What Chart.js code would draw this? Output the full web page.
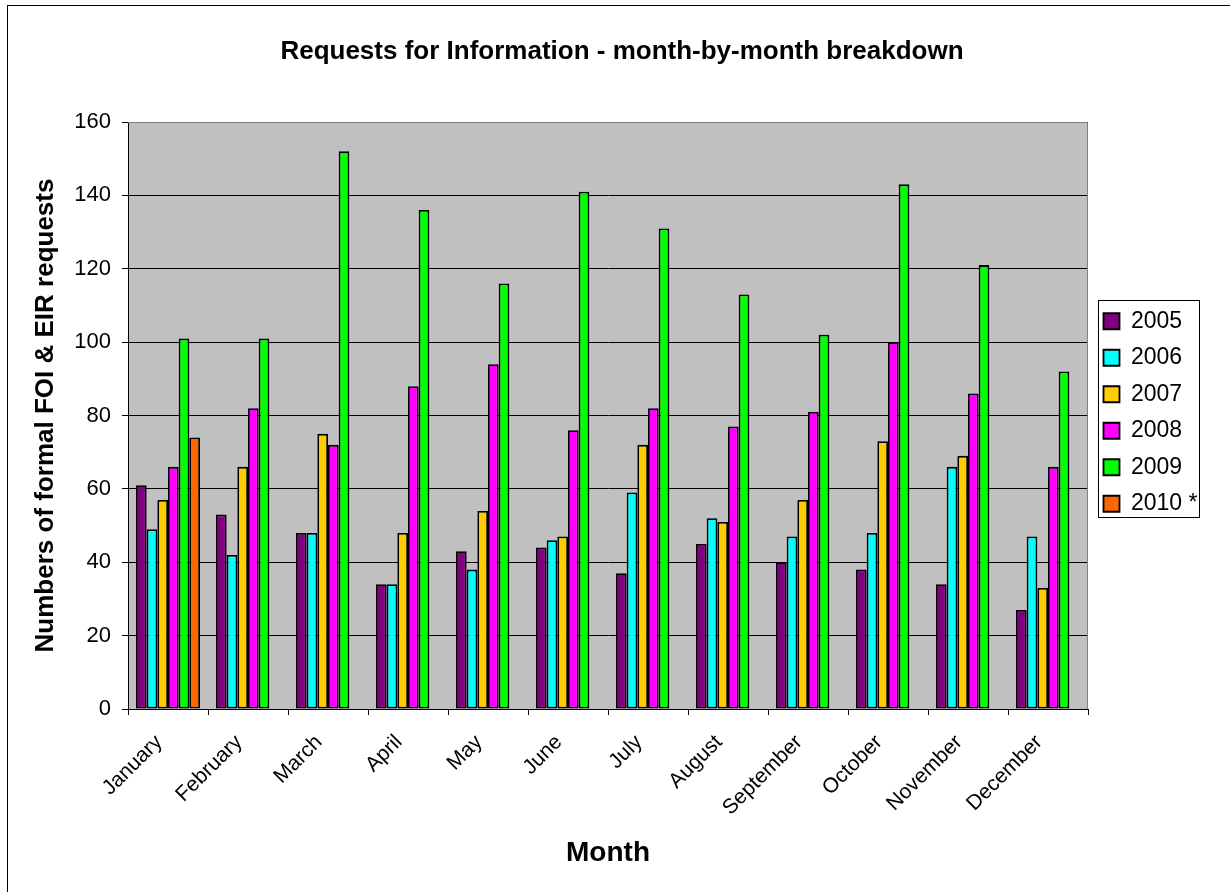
<!DOCTYPE html>
<html>
<head>
<meta charset="utf-8">
<script src="https://cdn.jsdelivr.net/npm/chart.js@4.4.1/dist/chart.umd.min.js"></script>
<style>
html,body{margin:0;padding:0;background:#fff;}
#wrap{width:1230px;height:892px;position:relative;}
</style>
</head>
<body>
<div id="wrap"><canvas id="c" width="1230" height="892"></canvas></div>
<script>
const months = ['January','February','March','April','May','June','July','August','September','October','November','December'];
const yearLabels = ['2005','2006','2007','2008','2009','2010 *'];
const y2005 = [61, 53, 48, 34, 43, 44, 37, 45, 40, 38, 34, 27];
const y2006 = [49, 42, 48, 34, 38, 46, 59, 52, 47, 48, 66, 47];
const y2007 = [57, 66, 75, 48, 54, 47, 72, 51, 57, 73, 69, 33];
const y2008 = [66, 82, 72, 88, 94, 76, 82, 77, 81, 100, 86, 66];
const y2009 = [101, 101, 152, 136, 116, 141, 131, 113, 102, 143, 121, 92];
const y2010 = [74, null, null, null, null, null, null, null, null, null, null, null];
const yTicks = [0, 20, 40, 60, 80, 100, 120, 140, 160];
const seriesColors = ['#800080', '#00FFFF', '#FFCC00', '#FF00FF', '#00FF00', '#FF6600'];

const FONT = "'Liberation Sans', Arial, Helvetica, sans-serif";
Chart.defaults.font.family = FONT;
Chart.defaults.color = '#000';

const allSeries = [y2005, y2006, y2007, y2008, y2009, y2010];
const datasets = allSeries.map((d, i) => ({
  label: yearLabels[i],
  data: d,
  backgroundColor: seriesColors[i],
  borderColor: '#000',
  borderWidth: 1.8,
  borderSkipped: false,
  categoryPercentage: 0.8,
  barPercentage: 1.0
}));

const LEGEND_W = 142;
const framePlugin = {
  id: 'frame',
  beforeLayout(chart) {
    const lg = chart.legend;
    if (lg && !lg._wrappedFit) {
      const f = lg.fit;
      lg.fit = function () { f.call(this); this.width = LEGEND_W; };
      lg._wrappedFit = true;
    }
  },
  afterLayout(chart) {
    const lg = chart.legend;
    if (lg) { lg.left += 2; lg.right += 2; lg.top -= 3; lg.bottom -= 3; }
  },
  beforeDraw(chart) {
    const {ctx, chartArea: a} = chart;
    ctx.save();
    ctx.fillStyle = '#fff';
    ctx.fillRect(0, 0, chart.width, chart.height);
    ctx.strokeStyle = '#000';
    ctx.lineWidth = 1;
    ctx.strokeRect(7.5, 5.5, chart.width + 20, chart.height + 20);
    ctx.fillStyle = '#C0C0C0';
    ctx.fillRect(a.left, a.top, a.right - a.left, a.bottom - a.top);
    ctx.restore();
  },
  beforeDatasetsDraw(chart) {
    const {ctx, chartArea: a} = chart;
    ctx.save();
    ctx.strokeStyle = '#808080';
    ctx.lineWidth = 1;
    ctx.beginPath();
    ctx.moveTo(a.left, a.top + 0.5);
    ctx.lineTo(a.right - 0.5, a.top + 0.5);
    ctx.lineTo(a.right - 0.5, a.bottom);
    ctx.stroke();
    ctx.restore();
  },
  afterDraw(chart) {
    const lg = chart.legend;
    if (!lg || !lg.legendHitBoxes || !lg.legendHitBoxes.length) return;
    const hb = lg.legendHitBoxes;
    const first = hb[0], last = hb[hb.length - 1];
    const x0 = 1098, y0 = first.top - 10;
    const x1 = 1199, y1 = last.top + last.height + 1;
    const ctx = chart.ctx;
    ctx.save();
    ctx.strokeStyle = '#000';
    ctx.lineWidth = 1;
    ctx.strokeRect(Math.round(x0) + 0.5, Math.round(y0) + 0.5, Math.round(x1 - x0), Math.round(y1 - y0));
    ctx.restore();
  }
};

new Chart(document.getElementById('c'), {
  type: 'bar',
  data: { labels: months, datasets },
  options: {
    responsive: false,
    animation: false,
    devicePixelRatio: 1,
    layout: { padding: { left: 14, right: 0, top: 0, bottom: 0 } },
    plugins: {
      title: {
        display: true,
        text: 'Requests for Information - month-by-month breakdown',
        font: { size: 26, weight: 'bold', family: FONT },
        color: '#000',
        padding: { top: 36.4, bottom: 54.4 }
      },
      legend: {
        display: true,
        position: 'right',
        fullSize: false,
        align: 'center',
        labels: {
          boxWidth: 16,
          boxHeight: 16,
          padding: 13.5,
          color: '#000',
          font: { size: 23, family: FONT }
        }
      },
      tooltip: { enabled: false }
    },
    scales: {
      x: {
        offset: true,
        grid: { display: true, drawOnChartArea: false, drawTicks: true, tickLength: 6, tickColor: '#000', offset: true },
        border: { display: true, color: '#000', width: 1 },
        ticks: { autoSkip: false, maxRotation: 45, minRotation: 45, font: { size: 21, family: FONT }, color: '#000', padding: 15, labelOffset: -9 },
        title: { display: true, text: 'Month', font: { size: 28, weight: 'bold', family: FONT }, color: '#000', padding: { top: 0, bottom: 22 } },
        afterFit(scale) { scale.height = 892 - 709; }
      },
      y: {
        min: 0,
        max: 160,
        afterBuildTicks(scale) { scale.ticks = yTicks.map(v => ({ value: v })); },
        grid: { display: true, color: '#000', lineWidth: 1, drawTicks: true, tickLength: 6, tickColor: '#000' },
        border: { display: true, color: '#000', width: 1 },
        ticks: { font: { size: 22, family: FONT }, color: '#000', padding: 11 },
        title: { display: true, text: 'Numbers of formal FOI & EIR requests', font: { size: 26, weight: 'bold', family: FONT }, color: '#000', padding: { top: 16.4, bottom: 0 } },
        afterFit(scale) { scale.width = 114; }
      }
    }
  },
  plugins: [framePlugin]
});
</script>
</body>
</html>
